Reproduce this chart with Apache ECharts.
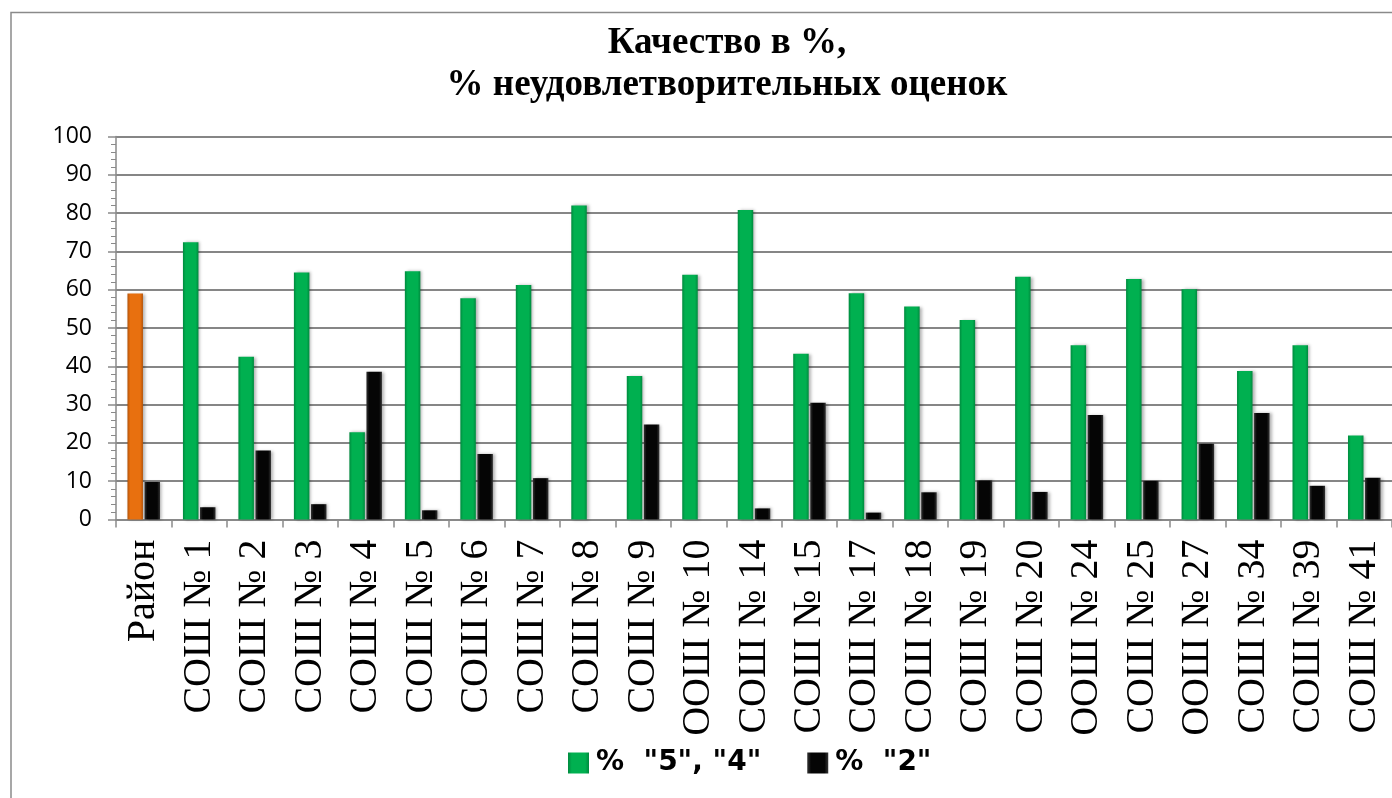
<!DOCTYPE html>
<html>
<head>
<meta charset="utf-8">
<title>Качество в %</title>
<script src="https://cdn.jsdelivr.net/npm/echarts@6/dist/echarts.min.js"></script>
<style>
    html, body { margin: 0; padding: 0; background: #fff; }
    #chart { width: 1392px; height: 798px; }
</style>
</head>
<body>
<div id="chart"></div>
<script>
var categories = ["Район", "СОШ № 1", "СОШ № 2", "СОШ № 3", "СОШ № 4", "СОШ № 5", "СОШ № 6", "СОШ № 7", "СОШ № 8", "СОШ № 9",
    "ООШ № 10", "СОШ № 14", "СОШ № 15", "СОШ № 17", "СОШ № 18", "СОШ № 19", "СОШ № 20", "ООШ № 24", "СОШ № 25", "ООШ № 27",
    "СОШ № 34", "СОШ № 39", "СОШ № 41"];
var quality = [59, 72.4, 42.5, 64.5, 22.8, 64.8, 57.8, 61.2, 82.0, 37.5, 63.9, 80.8, 43.3, 59.1, 55.6, 52.1, 63.4, 45.5, 62.8, 60.1, 38.8, 45.5, 21.9];
var failing = [9.8, 3.2, 18.0, 4.0, 38.6, 2.4, 17.1, 10.8, 0, 24.8, 0, 2.9, 30.5, 1.8, 7.1, 10.2, 7.2, 27.3, 10.1, 19.8, 27.8, 8.8, 10.9];
var seriesNames = ['%  "5", "4"', '%  "2"'];

(function () {
    "use strict";

    // bevelled look: darker edges, flat middle
    function bevel(edge, mid) {
        return {
            type: "linear", x: 0, y: 0, x2: 1, y2: 0,
            colorStops: [
                { offset: 0, color: edge },
                { offset: 0.18, color: mid },
                { offset: 0.82, color: mid },
                { offset: 1, color: edge }
            ]
        };
    }

    var greenData = quality.map(function (v, i) {
        if (i === 0) {
            return { value: v, itemStyle: { color: bevel("#b4540a", "#e8700f") } };
        }
        return v;
    });

    var chart = echarts.init(document.getElementById("chart"));
    chart.setOption({
        backgroundColor: "#fff",
        animation: false,
        graphic: [
            {
                type: "rect",
                shape: { x: 11, y: 12.5, width: 1500, height: 900 },
                style: { fill: "none", stroke: "#8a8a8a", lineWidth: 1.5 },
                silent: true
            }
        ],
        title: {
            text: "Качество в %,\n% неудовлетворительных оценок",
            left: 722,
            textAlign: "center",
            top: 17,
            textStyle: { fontFamily: "Liberation Serif", fontWeight: "bold", fontSize: 37, lineHeight: 42, color: "#000" }
        },
        legend: {
            left: 563,
            top: 744,
            itemWidth: 21,
            itemHeight: 21,
            itemGap: 46,
            icon: "rect",
            data: seriesNames,
            textStyle: { fontFamily: "DejaVu Sans", fontWeight: "bold", fontSize: 28, color: "#000", padding: [0, 0, 0, 2] }
        },
        grid: { left: 116, top: 136.5, width: 1282, bottom: 278.5, containLabel: false },
        xAxis: {
            type: "category",
            data: categories,
            axisLine: { lineStyle: { color: "#8a8a8a", width: 1.5 } },
            axisTick: { show: true, length: 8, lineStyle: { color: "#8a8a8a", width: 1.5 } },
            axisLabel: {
                interval: 0,
                rotate: 90,
                margin: 20,
                fontFamily: "Liberation Serif",
                fontSize: 40,
                color: "#000"
            }
        },
        yAxis: {
            type: "value",
            min: 0,
            max: 100,
            interval: 10,
            axisLine: { show: true, lineStyle: { color: "#8a8a8a", width: 1.5 } },
            axisTick: { show: true, length: 8, lineStyle: { color: "#8a8a8a", width: 1.5 } },
            minorTick: { show: true, splitNumber: 5, length: 5, lineStyle: { color: "#8a8a8a", width: 1 } },
            splitLine: { lineStyle: { color: "#868686", width: 2 } },
            axisLabel: { margin: 24, fontFamily: "Open Sans", fontSize: 23, color: "#000" }
        },
        series: [
            {
                name: seriesNames[0],
                type: "bar",
                data: greenData,
                barWidth: 15.5,
                barGap: "10%",
                itemStyle: {
                    color: bevel("#008a3e", "#00b050"),
                    shadowColor: "rgba(0,0,0,0.3)",
                    shadowBlur: 3,
                    shadowOffsetX: 2
                }
            },
            {
                name: seriesNames[1],
                type: "bar",
                data: failing,
                barWidth: 15.5,
                itemStyle: {
                    color: bevel("#333", "#050505"),
                    shadowColor: "rgba(0,0,0,0.3)",
                    shadowBlur: 3,
                    shadowOffsetX: 2
                }
            }
        ]
    });
})();
</script>
</body>
</html>
